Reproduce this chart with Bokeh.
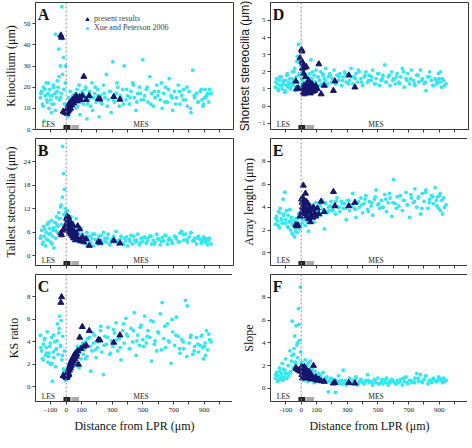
from bokeh.plotting import figure
from bokeh.layouts import gridplot
from bokeh.models import FixedTicker, Span, Label, Legend, LegendItem, Range1d
from bokeh.embed import file_html
from bokeh.resources import INLINE

# ---------------- data ----------------
# x positions (distance from LPR, µm) of the Xue & Peterson 2006 cells
xue_x = [
    -168, -161, -155, -148, -142, -136, -130, -124, -118, -112,
    -107, -101, -96, -90, -85, -80, -74, -69, -63, -58,
    -53, -48, -43, -38, -33, -28, -23, -18, -12, -6,
    2, 6, 11, 15, 20, 26, 31, 36, 42, 47,
    53, 59, 64, 71, 77, 84, 90, 97, 104, 112,
    119, 127, 135, 143, 151, 160, 168, 177, 186, 195,
    204, 214, 223, 233, 243, 252, 262, 273, 283, 293,
    304, 314, 325, 336, 346, 357, 368, 378, 389, 400,
    411, 422, 433, 444, 455, 466, 477, 488, 499, 511,
    522, 533, 545, 556, 567, 579, 590, 602, 613, 625,
    636, 648, 659, 671, 683, 694, 706, 718, 730, 741,
    753, 765, 777, 789, 801, 813, 825, 837, 849, 861,
    873, 884, 895, 905, 914, 921, 928, 934, 908, 890,
]
xue_x2 = [
    -165, -150, -139, -127, -115, -104, -93, -82, -71, -60,
    -47, -36, -25, -15, -3, 9, 24, 39, 56, 74,
    92, 108, 124, 140, 156, 172, 189, 207, 226, 247,
    268, 288, 309, 331, 352, 373, 394, 416, 438, 460,
    483, 505, 528, 551, 574, 597, 620, 643, 666, 690,
    714, 738, 762, 786, 810, 834, 858, 880, 900, 944,
]
# x positions of the present results
present_x = [
    -35, -30, -20, -8, 2, 4, 6, 8, 10, 12,
    14, 16, 18, 20, 22, 25, 28, 30, 33, 36,
    40, 44, 48, 52, 56, 60, 65, 70, 75, 80,
    88, 95, 105, 115, 130, 150, 210, 220, 310, 350,
]

kino_xue = [
    15, 18, 12, 20, 4, 16, 22, 13, 17, 10,
    19, 14, 8, 16, 21, 12, 17, 45, 15, 23,
    20, 38, 14, 30, 17, 58, 26, 34, 12, 22,
    8, 12, 6, 15, 10, 18, 9, 13, 16, 11,
    14, 17, 10, 19, 13, 21, 7, 15, 18, 12,
    16, 20, 5, 14, 18, 11, 22, 15, 17, 13,
    19, 6, 16, 12, 21, 15, 26, 14, 18, 8,
    32, 13, 17, 20, 11, 15, 19, 30, 14, 16,
    12, 18, 22, 15, 9, 17, 20, 14, 33, 16,
    19, 13, 25, 17, 11, 15, 21, 18, 14, 10,
    17, 20, 13, 24, 16, 9, 18, 15, 21, 12,
    16, 19, 14, 11, 18, 8, 28, 15, 17, 13,
    18, 14, 12, 19, 16, 17, 13, 19, 15, 11,
]
kino_xue2 = [
    17, 11, 19, 14, 22, 16, 12, 20, 9, 18,
    25, 15, 43, 19, 30, 10, 14, 12, 16, 11,
    13, 17, 19, 12, 15, 9, 20, 16, 13, 17,
    11, 18, 14, 22, 16, 12, 19, 15, 21, 13,
    17, 14, 20, 12, 18, 16, 22, 13, 19, 15,
    12, 18, 14, 20, 10, 16, 13, 19, 15, 17,
]
kino_present = [
    44.5, 43.5, 8.5, 8, 8, 9.5, 7.5, 10, 8.5, 11,
    9, 10.5, 12, 9.5, 11, 12.5, 10, 13, 11.5, 12,
    14, 13, 12.5, 15, 13.5, 14.5, 16, 13.5, 15, 14,
    15.5, 14, 16, 25, 14, 16, 14.5, 14.3, 15.5, 14.2,
]

tall_xue = [
    4.5, 6.5, 3.0, 7.5, 5.0, 2.5, 6.0, 8.0, 4.0, 5.5,
    7.0, 3.5, 9.0, 5.0, 6.5, 2.0, 8.5, 4.5, 10.0, 6.0,
    7.5, 11.0, 5.5, 9.5, 13.0, 8.0, 28.0, 21.0, 17.0, 12.0,
    10.5, 8.0, 11.5, 7.0, 9.0, 6.0, 10.0, 5.5, 8.5, 6.5,
    7.5, 5.0, 9.5, 4.5, 6.0, 3.5, 5.5, 7.0, 4.0, 5.0,
    4.5, 3.0, 6.0, 4.0, 5.0, 3.5, 4.5, 2.5, 5.5, 4.0,
    3.5, 5.0, 4.0, 3.0, 6.0, 4.5, 3.5, 5.5, 2.8, 4.0,
    4.5, 3.5, 6.2, 3.0, 4.0, 5.0, 3.2, 4.5, 3.8, 2.5,
    4.2, 5.2, 3.0, 4.0, 3.5, 5.5, 2.8, 4.5, 3.6, 4.8,
    3.2, 4.5, 5.0, 3.0, 4.0, 3.5, 5.5, 4.2, 2.8, 4.6,
    3.8, 5.2, 3.0, 4.5, 4.0, 3.2, 5.0, 4.3, 3.5, 5.8,
    6.2, 4.0, 5.5, 3.5, 4.8, 6.0, 3.8, 4.5, 3.0, 5.0,
    4.2, 3.6, 4.8, 3.9, 4.4, 2.8, 3.8, 4.5, 3.4, 4.0,
]
tall_xue2 = [
    5.0, 3.5, 6.8, 4.2, 8.5, 5.8, 3.0, 7.2, 6.5, 8.0,
    9.5, 12.5, 15.0, 10.5, 11.0, 9.0, 7.5, 6.0, 5.0, 6.5,
    4.0, 5.5, 3.8, 4.8, 3.2, 5.5, 4.2, 3.0, 5.2, 3.8,
    4.5, 3.2, 5.0, 3.8, 4.2, 2.8, 4.8, 3.6, 5.0, 4.0,
    3.4, 4.6, 3.8, 5.0, 3.0, 4.4, 3.7, 5.2, 4.0, 3.3,
    4.8, 3.6, 5.4, 4.2, 5.8, 3.8, 4.5, 3.2, 4.4, 3.0,
]
tall_present = [
    5.8, 5.3, 6.5, 7.5, 9.5, 8.0, 10.0, 7.0, 9.0, 8.5,
    6.5, 9.8, 7.5, 8.8, 6.0, 8.0, 7.2, 5.5, 8.3, 6.8,
    5.0, 7.8, 4.5, 6.2, 5.2, 4.0, 5.8, 4.6, 7.6, 4.2,
    6.8, 3.8, 4.8, 3.5, 4.3, 2.6, 3.6, 3.4, 3.9, 3.2,
]

ks_xue = [
    4.6, 3.2, 2.5, 3.8, 4.2, 2.8, 3.5, 4.9, 2.2, 3.0,
    3.6, 2.0, 4.4, 0.5, 3.1, 2.6, 4.0, 1.8, 3.4, 5.6,
    2.9, 4.8, 6.3, 3.7, 5.9, 2.4, 4.5, 1.6, 3.2, 0.9,
    0.7, 1.1, 1.5, 0.9, 1.8, 1.3, 2.2, 1.6, 2.6, 1.9,
    2.4, 3.0, 2.1, 2.8, 3.4, 1.7, 3.1, 2.5, 3.7, 2.9,
    3.3, 4.0, 2.7, 3.6, 4.4, 1.4, 3.2, 3.9, 4.6, 2.6,
    3.5, 4.2, 5.0, 3.1, 1.1, 4.5, 3.8, 5.3, 2.9, 4.1,
    3.6, 4.8, 5.7, 3.2, 4.3, 2.4, 5.0, 3.9, 6.1, 4.5,
    3.4, 5.2, 4.0, 6.6, 2.8, 4.6, 3.7, 5.5, 4.2, 6.3,
    3.9, 5.0, 4.4, 2.3, 5.8, 4.1, 3.2, 4.8, 6.5, 7.5,
    4.3, 3.5, 5.6, 4.0, 2.1, 4.9, 3.7, 6.2, 4.5, 3.0,
    4.2, 3.4, 7.7, 7.2, 3.9, 4.6, 2.9, 3.6, 4.4, 3.1,
    3.7, 4.6, 2.5, 3.9, 5.0, 3.3, 4.7, 4.2, 2.8, 3.5,
]
ks_xue2 = [
    3.5, 2.4, 4.3, 3.0, 2.7, 3.9, 2.1, 4.6, 3.3, 4.1,
    5.2, 3.6, 2.8, 1.4, 0.6, 1.2, 1.9, 2.3, 3.0, 3.6,
    3.2, 3.9, 2.5, 4.3, 3.6, 4.8, 3.3, 4.0, 5.4, 3.7,
    4.4, 3.0, 5.1, 4.2, 3.5, 5.6, 4.7, 3.4, 5.0, 4.1,
    5.3, 3.6, 4.5, 5.9, 3.8, 4.9, 3.3, 5.4, 4.1, 6.0,
    4.6, 3.4, 4.0, 2.7, 4.4, 3.2, 3.8, 4.5, 3.6, 4.0,
]
ks_present = [
    7.5, 8.0, 1.0, 0.9, 0.8, 1.1, 0.9, 1.3, 1.0, 1.4,
    1.2, 1.6, 1.1, 1.8, 1.5, 2.0, 1.7, 2.2, 1.9, 2.4,
    2.1, 2.6, 2.3, 2.8, 2.5, 3.0, 2.7, 2.9, 3.2, 2.0,
    4.4, 3.4, 5.35, 3.6, 3.7, 5.0, 4.2, 4.15, 3.95, 4.6,
]

short_xue = [
    1.1, 1.6, 1.3, 0.9, 1.5, 1.2, 1.7, 1.0, 1.4, 1.3,
    0.8, 1.5, 1.2, 1.9, 1.1, 1.4, 1.6, 1.0, 1.3, 2.0,
    1.5, 1.2, 2.2, 0.9, 1.7, 2.6, 1.4, 3.6, 1.9, 1.1,
    1.6, 1.3, 2.0, 1.0, 1.8, 1.4, 2.3, 1.2, 1.7, 1.5,
    1.9, 1.3, 2.7, 1.6, 1.1, 1.8, 1.4, 2.1, 1.2, 1.7,
    1.5, 2.0, 1.3, 1.8, 1.6, 2.2, 1.2, 1.7, 1.9, 1.4,
    1.6, 2.1, 1.3, 1.8, 1.5, 1.9, 1.2, 1.7, 2.0, 1.4,
    1.8, 1.5, 2.2, 1.3, 1.7, 1.9, 1.4, 2.0, 1.6, 1.2,
    1.7, 2.0, 1.4, 1.8, 1.5, 2.1, 1.3, 1.6, 1.9, 1.2,
    1.5, 1.8, 2.4, 1.4, 1.7, 1.2, 2.0, 1.6, 1.3, 1.9,
    1.4, 1.7, 2.2, 1.1, 1.6, 1.9, 1.3, 2.1, 1.5, 1.2,
    1.8, 1.4, 2.1, 1.6, 1.3, 0.9, 1.7, 2.0, 1.5, 1.2,
    1.6, 1.3, 1.9, 1.4, 1.1, 1.6, 1.5, 1.2, 2.0, 1.4,
]
short_xue2 = [
    1.4, 1.0, 1.7, 1.2, 1.5, 0.9, 1.8, 1.3, 1.1, 1.6,
    2.0, 1.4, 2.9, 1.8, 2.4, 1.5, 1.9, 1.3, 1.6, 2.0,
    1.4, 1.7, 1.2, 1.9, 1.5, 1.3, 1.8, 1.6, 1.4, 1.7,
    1.5, 1.9, 1.3, 1.7, 1.6, 2.1, 1.4, 1.8, 1.5, 1.7,
    1.3, 1.9, 1.6, 1.4, 1.8, 1.5, 1.7, 1.3, 2.0, 1.5,
    1.6, 1.3, 1.8, 1.5, 1.4, 1.7, 1.2, 1.5, 1.6, 1.3,
]
short_present = [
    1.45, 1.0, 1.05, 2.8, 3.3, 2.6, 3.2, 2.2, 1.0, 2.5,
    0.8, 1.9, 1.2, 0.7, 2.25, 1.0, 1.7, 0.9, 2.3, 1.3,
    0.8, 1.1, 1.5, 0.9, 1.2, 0.75, 1.0, 1.3, 0.85, 1.1,
    0.9, 1.2, 1.0, 2.45, 0.7, 1.2, 0.9, 1.45, 1.8, 1.1,
]

array_xue = [
    2.5, 3.2, 2.8, 3.6, 2.2, 3.9, 3.0, 2.6, 4.7, 3.4,
    5.3, 2.9, 3.7, 2.3, 3.3, 2.7, 3.8, 2.0, 3.1, 2.5,
    1.6, 2.8, 1.4, 2.2, 3.0, 1.8, 2.6, 3.4, 2.1, 3.5,
    3.2, 2.6, 3.8, 2.9, 3.5, 2.4, 4.0, 2.8, 3.3, 1.9,
    3.6, 2.9, 4.2, 3.1, 3.7, 2.7, 3.9, 4.4, 3.2, 3.6,
    4.1, 3.3, 4.6, 3.8, 2.1, 4.3, 3.5, 4.0, 3.7, 4.5,
    3.8, 4.2, 3.4, 4.8, 4.0, 3.6, 4.5, 3.9, 4.3, 2.9,
    4.6, 3.7, 4.2, 5.2, 3.9, 3.1, 4.4, 4.0, 4.8, 3.5,
    4.3, 5.0, 3.8, 4.5, 4.1, 3.3, 4.7, 5.5, 4.2, 3.9,
    4.6, 4.0, 5.1, 3.6, 4.4, 4.8, 3.2, 6.4, 4.3, 4.9,
    4.1, 5.0, 3.7, 4.6, 5.3, 4.2, 3.1, 4.8, 4.4, 5.6,
    4.0, 4.9, 3.4, 5.2, 4.5, 5.5, 3.9, 4.7, 5.0, 4.3,
    5.7, 4.1, 3.9, 5.2, 4.6, 3.4, 4.8, 4.0, 3.7, 4.9,
]
array_xue2 = [
    3.0, 2.4, 3.5, 2.9, 3.3, 2.6, 3.7, 2.2, 2.8, 1.7,
    2.4, 1.9, 2.7, 3.1, 2.3, 3.0, 3.4, 2.7, 3.8, 3.2,
    3.9, 3.4, 4.2, 3.8, 4.4, 3.6, 4.1, 3.7, 4.5, 4.0,
    4.3, 3.9, 4.6, 4.1, 3.8, 4.5, 4.2, 4.7, 3.6, 4.4,
    4.9, 4.3, 4.0, 4.7, 5.2, 4.4, 3.9, 5.0, 4.6, 4.2,
    5.1, 4.5, 4.8, 3.9, 5.3, 4.4, 4.9, 4.6, 5.0, 4.2,
]
array_present = [
    2.45, 2.35, 2.4, 3.2, 4.7, 3.6, 4.4, 4.0, 4.8, 3.4,
    5.9, 4.2, 3.8, 4.6, 4.1, 3.5, 5.2, 3.9, 4.5, 3.2,
    3.7, 4.3, 3.0, 3.6, 4.0, 2.7, 3.3, 3.8, 3.1, 4.0,
    3.5, 3.2, 3.9, 3.4, 4.5, 3.6, 5.35, 4.1, 4.1, 4.4,
]

slope_xue = [
    0.9, 1.4, 0.6, 1.1, 1.8, 0.8, 1.3, 2.2, 0.7, 1.0,
    1.6, 2.6, 0.9, 1.3, 2.0, 1.1, 3.3, 1.5, 2.4, 5.9,
    1.8, 3.0, 4.6, 2.3, 5.5, 3.8, 2.7, 7.0, 4.2, 8.9,
    2.3, 1.2, 2.0, 0.7, 1.6, 2.5, 1.0, 1.9, 0.6, 2.2,
    1.4, 2.4, 0.9, 1.7, 1.2, 0.5, 1.5, 1.0, 0.8, 1.3,
    0.9, 1.1, 0.6, 1.4, 0.8, 0.7, 1.0, -0.3, 0.6, 0.9,
    0.5, 0.8, -0.35, 0.6, 1.1, 0.4, 0.7, 1.6, 0.5, 0.3,
    0.6, 0.9, 0.4, 0.7, 0.5, 1.0, 0.3, 0.6, 0.8, 0.5,
    0.4, 0.7, 1.2, 0.5, 0.6, 0.3, 0.8, 0.5, 0.9, 0.4,
    0.6, 0.4, 0.7, 0.9, 0.3, 0.5, 0.8, 0.6, 0.4, 0.7,
    0.5, 0.8, 0.3, 0.6, 1.0, 0.4, 0.7, 0.5, 0.6, 0.9,
    1.3, 0.6, 1.2, 0.5, 0.8, 1.1, 0.4, 0.7, 0.5, 0.9,
    0.7, 0.6, 1.0, 0.8, 0.7, 0.5, 0.9, 0.6, 0.8, 0.7,
]
slope_xue2 = [
    1.2, 0.8, 1.5, 1.0, 1.7, 1.3, 0.9, 2.0, 1.4, 2.9,
    3.5, 2.1, 4.0, 5.6, 3.2, 1.8, 1.3, 2.1, 1.0, 1.6,
    1.1, 0.8, 1.2, 0.7, 0.9, 0.6, 0.8, 0.5, 0.7, 0.6,
    0.4, 0.7, 0.5, 0.6, 0.8, 0.4, 0.6, 0.5, 0.7, 0.5,
    0.6, 0.4, 0.8, 0.5, 0.6, 0.7, 0.4, 0.6, 0.9, 0.5,
    0.7, 0.5, 0.9, 0.6, 1.1, 0.7, 0.8, 0.6, 0.9, 0.7,
]
slope_present = [
    1.8, 1.7, 1.6, 1.5, 1.9, 1.2, 1.7, 0.9, 1.4, 1.8,
    1.1, 1.6, 1.3, 1.9, 1.0, 1.5, 1.2, 1.7, 0.9, 1.4,
    1.1, 1.3, 0.9, 1.5, 1.0, 1.2, 0.8, 1.1, 0.9, 2.0,
    0.8, 1.0, 0.7, 0.8, 0.65, 0.6, 0.45, 0.5, 0.5, 0.45,
]

x_ticks = [-100, 0, 100, 200, 300, 400, 500, 600, 700, 800, 900, 1000]
x_tick_labels = {-100: "-100", 0: "0", 100: "100", 300: "300", 500: "500", 700: "700", 900: "900"}
black_zone = [-18, 27]
gray_zone = [33, 83]
les_x, mes_x = -160, 487

SERIF = "Liberation Serif"
SANS = "Liberation Sans"
CYAN = "#35e6f0"
NAVY = "#16166e"

panels = {
    "A": dict(ylabel="Kinocilium (μm)", yr=(0, 60), yt=[0, 10, 20, 30, 40, 50],
              xue=kino_xue + kino_xue2, pres=kino_present, font=SERIF),
    "B": dict(ylabel="Tallest stereocilia (μm)", yr=(-2.5, 30), yt=[0, 6, 12, 18, 24],
              xue=tall_xue + tall_xue2, pres=tall_present, font=SERIF),
    "C": dict(ylabel="KS ratio", yr=(-1.3, 10), yt=[0, 2, 4, 6, 8],
              xue=ks_xue + ks_xue2, pres=ks_present, font=SERIF),
    "D": dict(ylabel="Shortest stereocilia (μm)", yr=(-1.37, 6.05), yt=[-1, 0, 1, 2, 3, 4, 5],
              xue=short_xue + short_xue2, pres=short_present, font=SANS),
    "E": dict(ylabel="Array length (μm)", yr=(-1.1, 10), yt=[0, 2, 4, 6, 8],
              xue=array_xue + array_xue2, pres=array_present, font=SERIF),
    "F": dict(ylabel="Slope", yr=(-1.15, 10), yt=[0, 2, 4, 6, 8],
              xue=slope_xue + slope_xue2, pres=slope_present, font=SERIF),
}
xue_all_x = xue_x + xue_x2

for k, d in panels.items():
    assert len(d["xue"]) == len(xue_all_x), (k, len(d["xue"]))
    assert len(d["pres"]) == len(present_x), (k, len(d["pres"]))

FW, FH = 198, 127


def make(letter, bottom, legend=False):
    d = panels[letter]
    y0, y1 = d["yr"]
    rng = y1 - y0
    p = figure(frame_width=FW, frame_height=FH,
               x_range=Range1d(-200, 1090), y_range=Range1d(y0, y1),
               output_backend="svg", toolbar_location=None,
               min_border_left=28, min_border_right=2, min_border_top=2,
               min_border_bottom=28 if bottom else 7)
    p.xgrid.visible = False
    p.ygrid.visible = False
    p.outline_line_color = "#3a3a3a"
    p.outline_line_width = 1
    p.background_fill_color = "white"
    p.border_fill_color = "white"

    p.add_layout(Span(location=0, dimension="height", line_color="#888888",
                      line_dash="2 2", line_width=1))
    p.quad(left=[black_zone[0]], right=[black_zone[1]], bottom=[y0], top=[y0 + 0.035 * rng],
           fill_color="#222222", line_color=None)
    p.quad(left=[gray_zone[0]], right=[gray_zone[1]], bottom=[y0], top=[y0 + 0.035 * rng],
           fill_color="#aaaaaa", line_color=None)

    r_xue = p.scatter(xue_all_x, d["xue"], marker="circle", size=3.8,
                      fill_color=CYAN, line_color=None)
    r_pres = p.scatter(present_x, d["pres"], marker="triangle", size=6,
                       fill_color=NAVY, line_color=NAVY)

    p.add_layout(Label(x=-185, y=y1 - 0.03 * rng, text=letter, text_font=SERIF,
                       text_font_style="bold", text_font_size="16px", text_baseline="top",
                       text_color="#111111"))
    p.add_layout(Label(x=les_x, y=y0 + 0.004 * rng, text="LES", text_font=SERIF,
                       text_font_size="7.5px", text_baseline="bottom", text_color="#222222"))
    p.add_layout(Label(x=mes_x, y=y0 + 0.004 * rng, text="MES", text_font=SERIF,
                       text_font_size="7.5px", text_baseline="bottom", text_align="center",
                       text_color="#222222"))

    ax = p.xaxis[0]
    ax.ticker = FixedTicker(ticks=x_ticks)
    if bottom:
        ax.major_label_overrides = {t: x_tick_labels.get(t, "") for t in x_ticks}
        ax.major_label_text_font = SERIF
        ax.major_label_text_font_size = "7px"
        ax.major_label_standoff = 3
        ax.axis_label = "Distance from LPR (μm)"
        ax.axis_label_text_font = SERIF
        ax.axis_label_text_font_size = "12px"
        ax.axis_label_text_font_style = "normal"
        ax.axis_label_standoff = 4
    else:
        ax.major_label_overrides = {t: "" for t in x_ticks}
        ax.major_label_text_font_size = "0px"
        ax.major_label_standoff = 0
    ay = p.yaxis[0]
    ay.ticker = FixedTicker(ticks=d["yt"])
    ay.major_label_text_font = SERIF
    ay.major_label_text_font_size = "7px"
    ay.major_label_standoff = 2
    ay.axis_label = d["ylabel"]
    ay.axis_label_text_font = d["font"]
    ay.axis_label_text_font_size = "12px"
    ay.axis_label_text_font_style = "normal"
    ay.axis_label_standoff = 3
    for a in (ax, ay):
        a.axis_line_color = "#3a3a3a"
        a.major_tick_line_color = "#3a3a3a"
        a.major_tick_out = 3
        a.major_tick_in = 0
        a.minor_tick_line_color = None
        a.major_label_text_color = "#222222"
        a.axis_label_text_color = "#111111"

    if legend:
        lg = Legend(items=[LegendItem(label="present results", renderers=[r_pres]),
                           LegendItem(label="Xue and Peterson 2006", renderers=[r_xue])],
                    location=(48, FH - 30), label_text_font=SERIF, label_text_font_size="8px",
                    glyph_width=8, glyph_height=8, label_standoff=3, spacing=-1,
                    padding=0, margin=0, border_line_color=None, background_fill_alpha=0,
                    label_height=8)
        p.add_layout(lg)
    return p


pA = make("A", False, legend=True)
pB = make("B", False)
pC = make("C", True)
pD = make("D", False)
pE = make("E", False)
pF = make("F", True)

grid = gridplot([[pA, pD], [pB, pE], [pC, pF]], toolbar_location=None)

open("out.html", "w").write(file_html(grid, INLINE))
